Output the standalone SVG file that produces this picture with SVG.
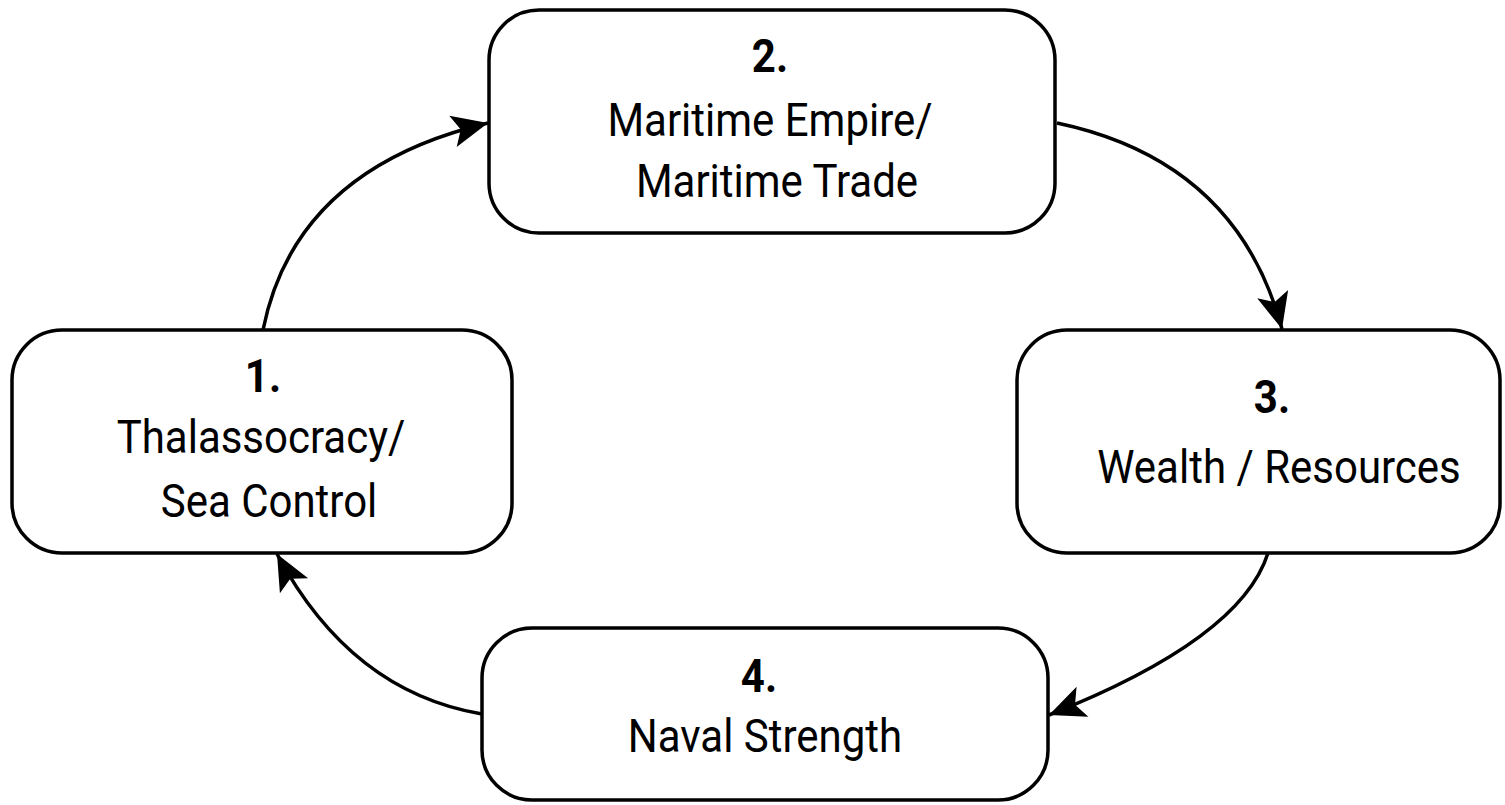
<svg xmlns="http://www.w3.org/2000/svg" width="1505" height="805" viewBox="0 0 1505 805">
<style>
.box{fill:#ffffff;stroke:#000000;stroke-width:3.5}
.num{font-family:Roboto,"Liberation Sans",sans-serif;font-weight:bold;font-size:42px;fill:#000;text-anchor:middle}
.lbl{font-family:Roboto,"Liberation Sans",sans-serif;font-size:42px;fill:#000;text-anchor:middle}
.edge{fill:none;stroke:#000;stroke-width:3.5;marker-end:url(#ah)}
</style>
<defs>
<marker id="ah" markerUnits="userSpaceOnUse" markerWidth="44" markerHeight="40" viewBox="-40 -20 44 40" refX="0" refY="0" orient="auto">
<path d="M0,0 L-36,-16 L-28,0 L-36,16 Z" fill="#000"/>
</marker>
</defs>
<rect width="1505" height="805" fill="#ffffff"/>
<g id="connectors">
<path class="edge" d="M263,330 Q295,169 488,123"/>
<path class="edge" d="M1057,123 Q1237,161 1282,329"/>
<path class="edge" d="M1268,553 Q1241,639 1049,715"/>
<path class="edge" d="M482,714 Q351,692 277,554"/>
</g>
<g id="node1">
<rect class="box" x="12" y="330" width="500" height="223" rx="50" ry="50"/>
<text class="num" transform="matrix(1,0,0,1.1,263,392)">1.</text>
<text class="lbl" transform="matrix(1,0,0,1.1,261,453)">Thalassocracy/</text>
<text class="lbl" transform="matrix(1,0,0,1.1,269,517)">Sea Control</text>
</g>
<g id="node2">
<rect class="box" x="489" y="10" width="566" height="223" rx="50" ry="50"/>
<text class="num" transform="matrix(1,0,0,1.1,770,72)">2.</text>
<text class="lbl" transform="matrix(1,0,0,1.1,770,136)">Maritime Empire/</text>
<text class="lbl" transform="matrix(1,0,0,1.1,777,197)">Maritime Trade</text>
</g>
<g id="node3">
<rect class="box" x="1017" y="330" width="483" height="223" rx="50" ry="50"/>
<text class="num" transform="matrix(1,0,0,1.1,1272,413)">3.</text>
<text class="lbl" transform="matrix(1,0,0,1.1,1279,483)">Wealth / Resources</text>
</g>
<g id="node4">
<rect class="box" x="482" y="628" width="566" height="172" rx="50" ry="50"/>
<text class="num" transform="matrix(1,0,0,1.1,759,692)">4.</text>
<text class="lbl" transform="matrix(1,0,0,1.1,765,752)">Naval Strength</text>
</g>
</svg>
